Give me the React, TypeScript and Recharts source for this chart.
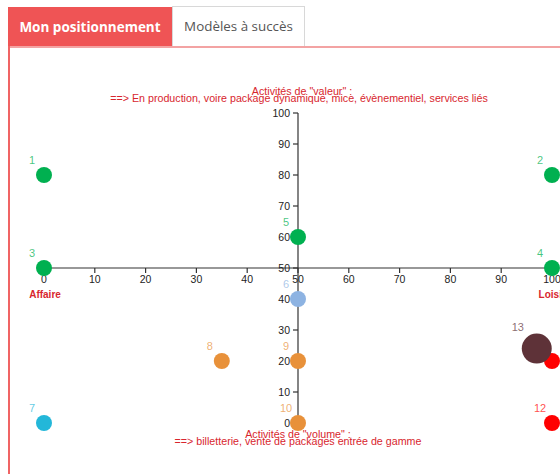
import React from "react";
import { ScatterChart, Scatter, XAxis, YAxis, ZAxis, ReferenceLine, Cell } from "recharts";

// ---- data ----
const POINT_IDS = [1, 2, 3, 4, 5, 6, 7, 8, 9, 10, 11, 12, 13];
const X_VALUES = [0, 100, 0, 100, 50, 50, 0, 35, 50, 50, 100, 100, 97];
const Y_VALUES = [80, 80, 50, 50, 60, 40, 0, 20, 20, 0, 20, 0, 24];
const Z_VALUES = [1, 1, 1, 1, 1, 1, 1, 1, 1, 1, 1, 1, 2];
const AXIS_TICKS = [0, 10, 20, 30, 40, 50, 60, 70, 80, 90, 100];
const TAB_LABELS = ["Mon positionnement", "Modèles à succès"];
const TOP_TITLE = "Activités de \"valeur\" :";
const TOP_SUB = "==> En production, voire package dynamique, mice, évènementiel, services liés";
const BOTTOM_TITLE = "Activités de \"volume\" :";
const BOTTOM_SUB = "==> billetterie, vente de packages entrée de gamme";
const LEFT_LABEL = "Affaire";
const RIGHT_LABEL = "Loisirs";

// ---- styles ----
const POINT_COLORS = [
  "#00b050", "#00b050", "#00b050", "#00b050", "#00b050",
  "#8db3e2", "#23b7d9", "#e8913a", "#e8913a", "#e8913a",
  "#ff0000", "#ff0000", "#5e3238",
];

const data = POINT_IDS.map((id, i) => ({ id, x: X_VALUES[i], y: Y_VALUES[i], z: Z_VALUES[i] }));

const CHART_W = 600;
const CHART_H = 474;
const X_AXIS_H = 20;
const Y_AXIS_W = 20;
const PLOT_MARGIN = { left: 44, right: 48, top: 113, bottom: 51 };
const AXIS_MARGIN = { left: 44 - Y_AXIS_W, right: 48, top: 113, bottom: 51 - X_AXIS_H };
const PLOT_W = CHART_W - PLOT_MARGIN.left - PLOT_MARGIN.right;
const PLOT_H = CHART_H - PLOT_MARGIN.top - PLOT_MARGIN.bottom;
const AXIS_COLOR = "#333";
const TICK_TEXT = "#222";
const TEXT_RED = "#d8262e";
const FONT = "'Liberation Sans', Arial, sans-serif";

const XTick = (props: any) => {
  const { x, y, payload } = props;
  const ay = y - PLOT_H / 2;
  return (
    <g>
      <line x1={x} y1={ay} x2={x} y2={ay + 5} stroke={AXIS_COLOR} strokeWidth={1.2} />
      <text x={x} y={ay + 15} textAnchor="middle" fill={TICK_TEXT} fontSize={10.5} fontFamily={FONT}>
        {payload.value}
      </text>
    </g>
  );
};

const YTick = (props: any) => {
  const { x, y, payload } = props;
  const ax = x + PLOT_W / 2;
  return (
    <g>
      <line x1={ax - 5} y1={y} x2={ax} y2={y} stroke={AXIS_COLOR} strokeWidth={1.2} />
      <text x={ax - 8} y={y + 4} textAnchor="end" fill={TICK_TEXT} fontSize={10.5} fontFamily={FONT}>
        {payload.value}
      </text>
    </g>
  );
};

const EmptyShape = () => <g />;

const PointShape = (props: any) => {
  const { cx, cy, size, fill, payload } = props;
  const r = Math.sqrt((size || 201) / Math.PI);
  return (
    <g>
      <circle cx={cx} cy={cy} r={r} fill={fill} />
      <text
        x={cx - r - 4}
        y={cy - r - 3}
        textAnchor="middle"
        fill={fill}
        fillOpacity={0.72}
        fontSize={11}
        fontFamily={FONT}
      >
        {payload.id}
      </text>
    </g>
  );
};

export default function App() {
  return (
    <div style={{ position: "fixed", left: 0, top: 0, width: 560, height: 474, overflow: "hidden", background: "#fff" }}>
      {/* tabs */}
      <div
        style={{
          position: "absolute", left: 8, top: 7, width: 164, height: 40, background: "#ef5455",
          color: "#fff", fontFamily: "'Open Sans', sans-serif", fontWeight: 700, fontSize: 13.5,
          lineHeight: "40px", textAlign: "center", boxSizing: "border-box",
        }}
      >
        {TAB_LABELS[0]}
      </div>
      <div
        style={{
          position: "absolute", left: 172, top: 6, width: 133, height: 41, background: "#fff",
          color: "#555", fontFamily: "'Open Sans', sans-serif", fontWeight: 400, fontSize: 13.4,
          lineHeight: "39px", textAlign: "center", boxSizing: "border-box",
          border: "1px solid #d8d8d8", borderBottom: "none",
        }}
      >
        {TAB_LABELS[1]}
      </div>
      {/* panel borders */}
      <div style={{ position: "absolute", left: 8, top: 46, width: 560, height: 1.5, background: "#f3a3a3" }} />
      <div style={{ position: "absolute", left: 8, top: 46, width: 1.5, height: 440, background: "#f06464" }} />

      {/* axes layer */}
      <div style={{ position: "absolute", left: 0, top: 0 }}>
        <ScatterChart width={CHART_W} height={CHART_H} margin={AXIS_MARGIN}>
          <XAxis
            type="number"
            dataKey="x"
            domain={[0, 100]}
            ticks={AXIS_TICKS}
            height={X_AXIS_H}
            axisLine={false}
            tickLine={false}
            tickSize={0}
            tickMargin={0}
            tick={XTick}
            interval={0}
          />
          <YAxis
            type="number"
            dataKey="y"
            domain={[0, 100]}
            ticks={AXIS_TICKS}
            width={Y_AXIS_W}
            axisLine={false}
            tickLine={false}
            tickSize={0}
            tickMargin={0}
            tick={YTick}
            interval={0}
          />
          <ReferenceLine y={50} stroke={AXIS_COLOR} strokeWidth={1.2} />
          <ReferenceLine x={50} stroke={AXIS_COLOR} strokeWidth={1.2} />
          <Scatter data={data} shape={<EmptyShape />} isAnimationActive={false} />
        </ScatterChart>
      </div>

      {/* annotations */}
      <svg width={560} height={474} style={{ position: "absolute", left: 0, top: 0, pointerEvents: "none" }}>
        <g fontFamily={FONT} fill={TEXT_RED} fontSize={10.7}>
          <text x={302} y={95} textAnchor="middle">{TOP_TITLE}</text>
          <text x={299} y={102} textAnchor="middle">{TOP_SUB}</text>
          <text x={298} y={438} textAnchor="middle">{BOTTOM_TITLE}</text>
          <text x={298} y={445} textAnchor="middle">{BOTTOM_SUB}</text>
          <text x={45} y={298} textAnchor="middle" fontWeight={700} fontSize={10}>{LEFT_LABEL}</text>
          <text x={555} y={298} textAnchor="middle" fontWeight={700} fontSize={10}>{RIGHT_LABEL}</text>
        </g>
      </svg>

      {/* points layer */}
      <div style={{ position: "absolute", left: 0, top: 0 }}>
        <ScatterChart width={CHART_W} height={CHART_H} margin={PLOT_MARGIN}>
          <XAxis type="number" dataKey="x" domain={[0, 100]} hide />
          <YAxis type="number" dataKey="y" domain={[0, 100]} hide />
          <ZAxis type="number" dataKey="z" domain={[1, 2]} range={[201, 707]} />
          <Scatter data={data} shape={<PointShape />} isAnimationActive={false}>
            {data.map((d, i) => (
              <Cell key={d.id} fill={POINT_COLORS[i]} />
            ))}
          </Scatter>
        </ScatterChart>
      </div>
    </div>
  );
}
